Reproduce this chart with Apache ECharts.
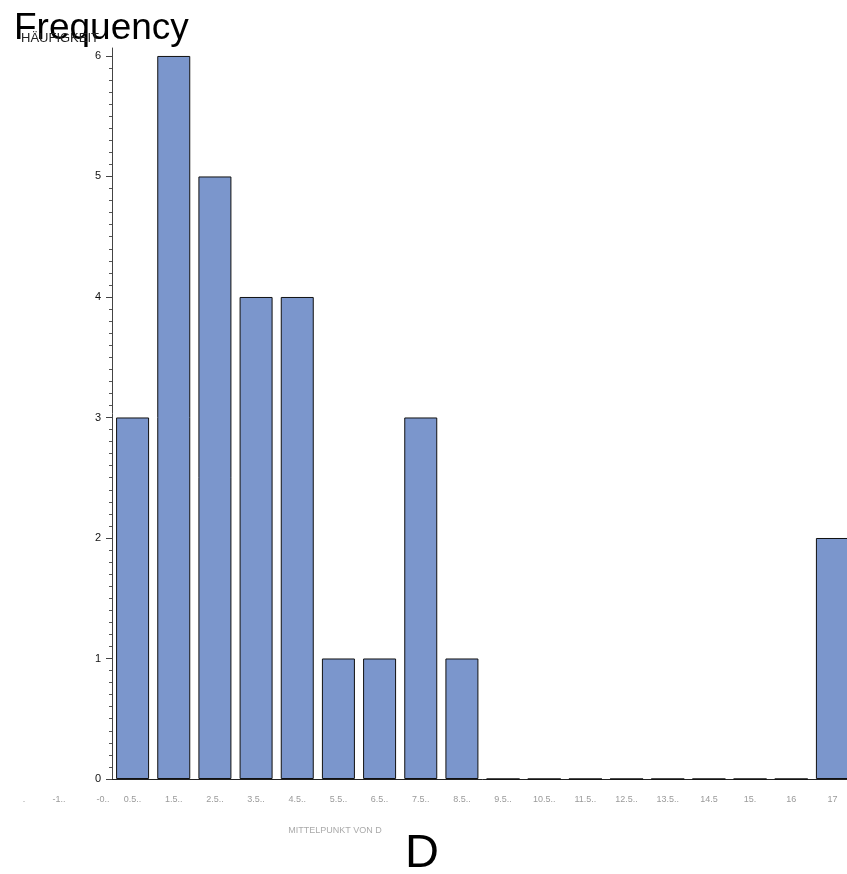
<!DOCTYPE html>
<html>
<head>
<meta charset="utf-8">
<style>
  html, body { margin: 0; padding: 0; background: #fff; overflow: hidden; }
  #chart { width: 853px; height: 874px; }
</style>
<script src="https://cdn.jsdelivr.net/npm/echarts@6/dist/echarts.min.js"></script>
</head>
<body>
<div id="chart"></div>
<script>
// Class midpoints of D (as printed on the axis) and the count per class
const categories = ['0.5..', '1.5..', '2.5..', '3.5..', '4.5..', '5.5..', '6.5..', '7.5..', '8.5..',
                    '9.5..', '10.5..', '11.5..', '12.5..', '13.5..', '14.5', '15.', '16', '17'];
const counts = [3, 6, 5, 4, 4, 1, 1, 3, 1, 0, 0, 0, 0, 0, 0, 0, 0, 2];
const yTicks = [0, 1, 2, 3, 4, 5, 6];
// stray axis labels printed left of the plot
const strayLabels = ['.', '-1..', '-0..'];

const FONT = 'Liberation Sans, Arial, sans-serif';

// minor tick positions: tenths between integer ticks
const minorTicks = [];
for (let i = 0; i < 60; i++) {
  if (i % 10 !== 0) minorTicks.push(i / 10);
}

const chart = echarts.init(document.getElementById('chart'), null, { renderer: 'canvas' });

const strayX = [24, 59, 103];

chart.setOption({
  animation: false,
  backgroundColor: '#fff',
  textStyle: { fontFamily: FONT },
  // the plot runs past the right edge of the page, so the last bar is cut off
  grid: { left: 112, top: 48, bottom: 95, right: 0, containLabel: false },
  xAxis: [
    {
      type: 'category',
      data: categories,
      position: 'bottom',
      axisLine: { show: true, lineStyle: { color: '#9a9a9a', width: 1 } },
      axisTick: { show: false },
      axisLabel: { interval: 0, color: '#9a9a9a', fontSize: 9, margin: 16, fontFamily: FONT },
      splitLine: { show: false }
    },
    {
      type: 'category',
      data: categories,
      position: 'top',
      axisLine: { show: true, lineStyle: { color: '#222', width: 1 } },
      axisTick: { show: false },
      axisLabel: { show: false },
      splitLine: { show: false }
    }
  ],
  yAxis: [
    {
      type: 'value',
      min: 0,
      max: 6.066,
      position: 'left',
      offset: 0,
      axisLine: { show: true, lineStyle: { color: '#444', width: 1 } },
      axisTick: { show: true, length: 6, customValues: yTicks, lineStyle: { color: '#444' } },
      axisLabel: { customValues: yTicks, color: '#111', fontSize: 11, margin: 11, fontFamily: FONT },
      splitLine: { show: false }
    },
    {
      type: 'value',
      min: 0,
      max: 6.066,
      position: 'left',
      offset: 0,
      axisLine: { show: false },
      axisTick: { show: true, length: 3, customValues: minorTicks, lineStyle: { color: '#555' } },
      axisLabel: { show: false },
      splitLine: { show: false }
    }
  ],
  series: [
    {
      type: 'bar',
      data: counts,
      xAxisIndex: 0,
      yAxisIndex: 0,
      barWidth: 33,
      itemStyle: { color: '#7b96cc', borderColor: '#111', borderWidth: 1 }
    }
  ],
  graphic: [
    {
      type: 'text', left: 14, top: 10, z: 10,
      style: { text: 'Frequency', font: '37px ' + FONT, fill: '#000' }
    },
    {
      type: 'text', x: 60, y: 38, z: 11,
      style: { text: 'HÄUFIGKEIT', font: '13px ' + FONT, fill: '#222', textAlign: 'center', textVerticalAlign: 'middle' }
    },
    {
      type: 'text', x: 335, y: 831,
      style: { text: 'MITTELPUNKT VON D', font: '9px ' + FONT, fill: '#aaa', textAlign: 'center', textVerticalAlign: 'middle' }
    },
    {
      type: 'text', x: 422, y: 854,
      style: { text: 'D', font: '47px ' + FONT, fill: '#000', textAlign: 'center', textVerticalAlign: 'middle' }
    }
  ].concat(strayLabels.map((t, i) => ({
    type: 'text', x: strayX[i], y: 800,
    style: { text: t, font: '9px ' + FONT, fill: '#9a9a9a', textAlign: 'center', textVerticalAlign: 'middle' }
  })))
});
</script>
</body>
</html>
